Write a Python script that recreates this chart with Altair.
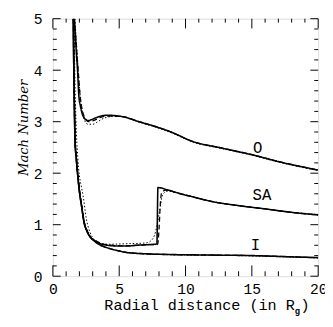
import altair as alt
import pandas as pd

# ---------------- data ----------------
# Model O (outer curve)
O_solid_x = [1.62, 1.70, 1.78, 1.86, 1.96, 2.08, 2.22, 2.40, 2.65, 3.00, 3.50, 4.10, 5.20,
             6.50, 7.80, 9.00, 10.50, 12.70, 15.15, 17.10, 20.00]
O_solid_y = [5.00, 4.65, 4.30, 4.00, 3.50, 3.30, 3.15, 3.06, 3.02, 3.05, 3.10, 3.125, 3.10,
             3.00, 2.90, 2.79, 2.62, 2.49, 2.35, 2.22, 2.06]
O_dashed_x = [1.62, 1.72, 1.82, 1.92, 2.02, 2.14, 2.28, 2.46, 2.70, 3.05, 3.55, 4.20, 5.20,
              6.50, 7.80, 9.00, 10.50, 12.70, 15.15, 17.10, 20.00]
O_dashed_y = [5.00, 4.65, 4.30, 3.95, 3.60, 3.33, 3.16, 3.06, 3.00, 3.02, 3.08, 3.11, 3.10,
              3.00, 2.90, 2.79, 2.62, 2.49, 2.35, 2.22, 2.06]
O_dotted_x = [1.66, 1.76, 1.86, 1.97, 2.08, 2.22, 2.40, 2.65, 3.00, 3.45, 3.87, 4.50, 5.20,
              6.50, 7.80, 9.00, 10.50, 12.70, 15.15, 17.10, 20.00]
O_dotted_y = [5.00, 4.60, 4.20, 3.80, 3.45, 3.20, 3.02, 2.95, 2.95, 3.01, 3.07, 3.10, 3.10,
              2.99, 2.89, 2.78, 2.61, 2.48, 2.34, 2.21, 2.05]

# Model I (inner curve)
I_x = [1.54, 1.57, 1.62, 1.67, 1.76, 1.86, 2.00, 2.16, 2.35, 2.60, 2.89, 3.14, 3.60, 4.12,
       5.00, 5.60, 7.00, 9.00, 12.00, 15.00, 17.50, 20.00]
I_y = [5.00, 4.20, 3.30, 2.63, 2.30, 2.00, 1.65, 1.37, 1.05, 0.86, 0.74, 0.68, 0.60, 0.55,
       0.49, 0.46, 0.435, 0.42, 0.41, 0.40, 0.38, 0.36]
I_dotted_x = [1.56, 1.59, 1.64, 1.69, 1.78, 1.88, 2.02, 2.18, 2.37, 2.62, 2.91, 3.16, 3.62, 4.14,
              5.00, 5.60, 7.00, 9.00, 12.00, 15.00, 17.50, 20.00]
I_dotted_y = [5.00, 4.20, 3.30, 2.63, 2.30, 2.00, 1.65, 1.37, 1.05, 0.86, 0.74, 0.68, 0.60, 0.55,
              0.485, 0.455, 0.43, 0.415, 0.405, 0.395, 0.375, 0.355]

# Model SA (shock)
SA_solid_x = [1.54, 1.57, 1.62, 1.67, 1.76, 1.86, 2.00, 2.16, 2.35, 2.60, 2.89, 3.14, 3.60,
              4.12, 5.00, 5.60, 6.30, 7.00, 7.84, 7.92, 8.60, 9.50, 10.70, 12.00, 14.00,
              15.90, 18.00, 20.00]
SA_solid_y = [5.00, 4.20, 3.30, 2.63, 2.30, 2.00, 1.65, 1.37, 1.05, 0.86, 0.74, 0.69, 0.63,
              0.60, 0.585, 0.585, 0.60, 0.61, 0.625, 1.72, 1.68, 1.61, 1.53, 1.45, 1.37,
              1.31, 1.24, 1.19]
SA_dashed_x = [1.56, 1.59, 1.64, 1.69, 1.78, 1.88, 2.02, 2.18, 2.37, 2.62, 2.91, 3.16, 3.62,
               4.14, 5.00, 6.00, 7.00, 7.90, 8.00, 8.10, 8.20, 8.50, 9.50, 10.70, 12.00,
               14.00, 15.90, 18.00, 20.00]
SA_dashed_y = [5.00, 4.20, 3.30, 2.63, 2.30, 2.00, 1.65, 1.37, 1.05, 0.86, 0.74, 0.70, 0.64,
               0.61, 0.59, 0.595, 0.61, 0.62, 0.90, 1.40, 1.62, 1.67, 1.61, 1.53, 1.45,
               1.37, 1.31, 1.24, 1.19]
SA_dotted_x = [1.60, 1.64, 1.70, 1.78, 1.88, 2.00, 2.14, 2.28, 2.52, 2.80, 3.10, 3.50, 4.20,
               5.50, 7.00, 7.30, 7.67, 8.00, 8.29, 8.65, 9.20, 10.70, 12.00, 14.00, 15.90,
               18.00, 20.00]
SA_dotted_y = [5.00, 4.20, 3.40, 2.75, 2.30, 1.95, 1.75, 1.56, 1.12, 0.85, 0.72, 0.65, 0.62,
               0.63, 0.645, 0.67, 0.80, 1.20, 1.59, 1.65, 1.63, 1.53, 1.45, 1.37, 1.31,
               1.24, 1.19]

# curve labels
label_text = ["O", "SA", "I"]
label_x = [15.44, 15.76, 15.27]
label_y = [2.49, 1.58, 0.61]

# axis ticks
x_major = [0, 5, 10, 15, 20]
x_minor = [1, 2, 3, 4, 6, 7, 8, 9, 11, 12, 13, 14, 16, 17, 18, 19]
y_major = [0, 1, 2, 3, 4, 5]
y_minor = [0.2, 0.4, 0.6, 0.8, 1.2, 1.4, 1.6, 1.8, 2.2, 2.4, 2.6, 2.8,
           3.2, 3.4, 3.6, 3.8, 4.2, 4.4, 4.6, 4.8]

# ---------------- build table ----------------
series = [
    ("O", "solid", O_solid_x, O_solid_y),
    ("O", "dashed", O_dashed_x, O_dashed_y),
    ("O", "dotted", O_dotted_x, O_dotted_y),
    ("I", "solid", I_x, I_y),
    ("I", "dashed", I_x, I_y),
    ("I", "dotted", I_dotted_x, I_dotted_y),
    ("SA", "solid", SA_solid_x, SA_solid_y),
    ("SA", "dashed", SA_dashed_x, SA_dashed_y),
    ("SA", "dotted", SA_dotted_x, SA_dotted_y),
]
rows = []
for model, variant, xs, ys in series:
    for i, (xv, yv) in enumerate(zip(xs, ys)):
        rows.append({"model": model, "variant": variant, "key": model + "-" + variant,
                     "i": i, "r": xv, "m": yv})
df = pd.DataFrame(rows)

W, H = 272, 264
MONO = "Liberation Mono"
SERIF = "DejaVu Serif"

xscale = alt.Scale(domain=[0, 20], nice=False, zero=False)
yscale = alt.Scale(domain=[0, 5], nice=False, zero=False)

lines = alt.Chart(df).mark_line(clip=True, color="black", interpolate="monotone").encode(
    x=alt.X("r:Q", scale=xscale,
            axis=alt.Axis(values=x_major, ticks=False, domain=False, grid=False,
                          labelFont=MONO, labelFontSize=15, labelColor="black",
                          labelPadding=6, labelFlush=False, labelOverlap=False, title=None)),
    y=alt.Y("m:Q", scale=yscale,
            axis=alt.Axis(values=y_major, ticks=False, domain=False, grid=False,
                          labelFont=MONO, labelFontSize=15, labelColor="black",
                          labelPadding=11, labelFlush=False, labelOverlap=False, title=None)),
    detail="key:N",
    order="i:Q",
    strokeDash=alt.StrokeDash("variant:N",
                              scale=alt.Scale(domain=["solid", "dashed", "dotted"],
                                              range=[[1, 0], [5, 3], [1.5, 2]]),
                              legend=None),
    strokeWidth=alt.StrokeWidth("variant:N",
                                scale=alt.Scale(domain=["solid", "dashed", "dotted"],
                                                range=[1.6, 1.0, 1.2]),
                                legend=None),
)

lab_df = pd.DataFrame({"t": label_text, "r": label_x, "m": label_y})
labels = alt.Chart(lab_df).mark_text(font=MONO, fontSize=16, color="black").encode(
    x=alt.X("r:Q", scale=xscale), y=alt.Y("m:Q", scale=yscale), text="t:N")

def xticks(vals, y0, y1):
    return alt.Chart(pd.DataFrame({"r": vals})).mark_rule(color="black", strokeWidth=1).encode(
        x=alt.X("r:Q", scale=xscale), y=alt.value(y0), y2=alt.value(y1))

def yticks(vals, x0, x1):
    return alt.Chart(pd.DataFrame({"m": vals})).mark_rule(color="black", strokeWidth=1).encode(
        y=alt.Y("m:Q", scale=yscale), x=alt.value(x0), x2=alt.value(x1))

ticks = [
    xticks(x_major, H, H - 11), xticks(x_minor, H, H - 5),
    xticks(x_major, 0, 10), xticks(x_minor, 0, 4),
    yticks(y_major, 0, 8), yticks(y_minor, 0, 4),
    yticks(y_major, W, W - 8), yticks(y_minor, W, W - 4),
]

xtitle_main = alt.Chart(pd.DataFrame({"t": ["Radial distance (in R"]})).mark_text(
    font=MONO, fontSize=15.5, align="right", baseline="alphabetic", color="black").encode(
    text="t:N", x=alt.value(248), y=alt.value(299))
xtitle_sub = alt.Chart(pd.DataFrame({"t": ["g"]})).mark_text(
    font=MONO, fontSize=9, fontWeight="bold", align="left", baseline="alphabetic",
    color="black").encode(text="t:N", x=alt.value(248), y=alt.value(303))
xtitle_close = alt.Chart(pd.DataFrame({"t": [")"]})).mark_text(
    font=MONO, fontSize=15.5, align="left", baseline="alphabetic", color="black").encode(
    text="t:N", x=alt.value(254), y=alt.value(299))
ytitle = alt.Chart(pd.DataFrame({"t": ["Mach Number"]})).mark_text(
    font=SERIF, fontSize=13.5, fontStyle="italic", angle=270, align="center",
    baseline="middle", color="black").encode(text="t:N", x=alt.value(-29), y=alt.value(112))

chart = alt.layer(lines, labels, *ticks, xtitle_main, xtitle_sub, xtitle_close, ytitle).properties(
    width=W, height=H,
    autosize=alt.AutoSizeParams(type="none"),
    padding={"left": 46, "top": 7, "right": 7, "bottom": 43},
).configure_view(stroke="black", strokeWidth=1.5).configure(background="white")

chart.save("out.html", embed_options={"renderer": "svg", "actions": False})
